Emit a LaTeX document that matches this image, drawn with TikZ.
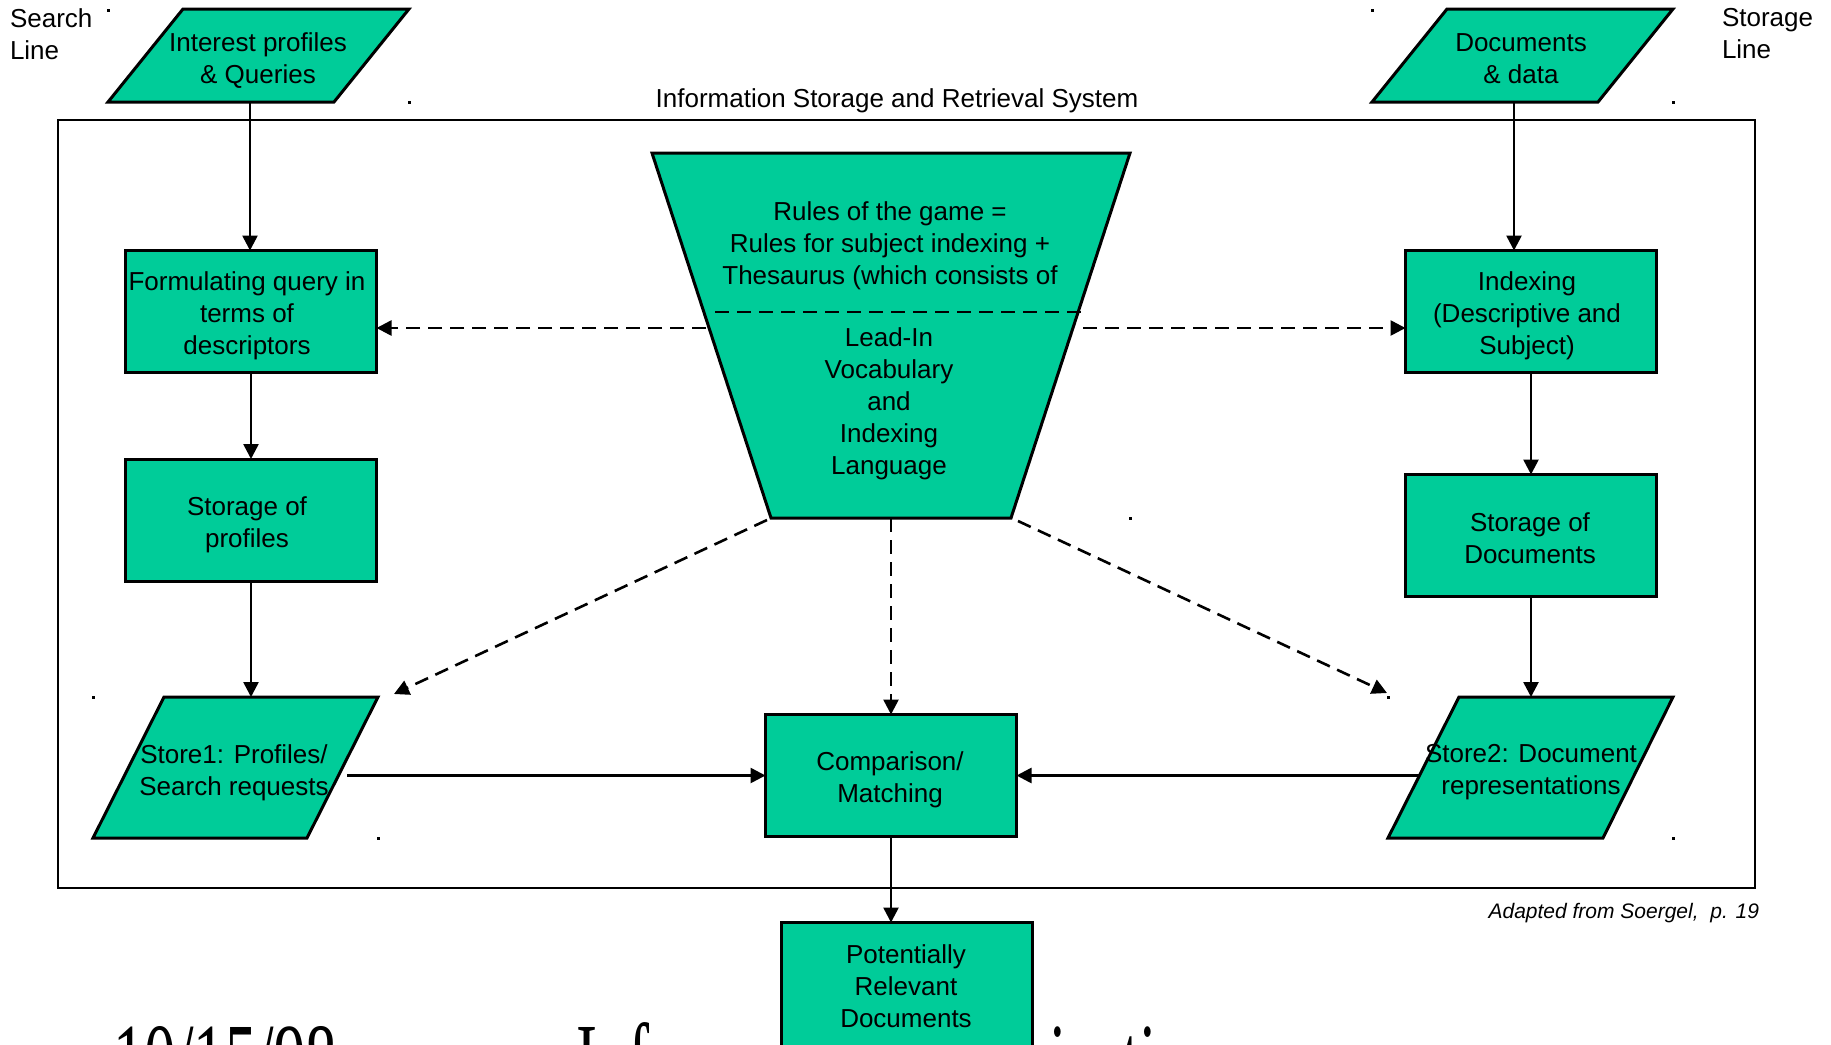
\documentclass[tikz,border=0pt]{standalone}
\usepackage{fontspec}
\setmainfont{Liberation Sans}
\newfontfamily\footserif{Liberation Serif}
\usetikzlibrary{arrows.meta}
\definecolor{boxgreen}{RGB}{0,204,153}

\tikzset{
  every node/.style={inner sep=0pt, outer sep=0pt},
  lbl/.style={font=\fontsize{26}{32}\selectfont, align=center},
  rectbox/.style={draw, line width=3pt, fill=boxgreen, minimum width=251pt, minimum height=122pt},
  pgram/.style={draw, line width=3pt, fill=boxgreen, line join=miter},
  flowline/.style={line width=2.6pt, -{Triangle[length=15pt,width=15pt]}},
  dashflow/.style={flowline, dash pattern=on 14pt off 8pt},
  speck/.style={fill=black, minimum size=3pt},
  footer/.style={anchor=base west, font=\footserif\fontsize{63}{63}\selectfont},
}

\begin{document}
\begin{tikzpicture}[x=1pt,y=-1pt]
\useasboundingbox (0,0) rectangle (1831,1044);

% footer line of the slide (mostly below the page edge)
\node[footer] (date) at (113,1093) {\scalebox{1}[1.6]{10/15/98}};
\node[footer] (course) at (576,1093) {\scalebox{1}[1.6]{Information Organization}};

% side captions and title
\node[lbl, align=left, anchor=west] (search) at (10,34) {Search\\Line};
\node[lbl, align=left, anchor=west] (storeline) at (1722,34) {Storage\\Line};
\node[lbl] (title) at (897,100.5) {Information Storage and Retrieval System};

% system frame
\draw[line width=2.4pt] (58,120) rectangle (1755,888);

% input parallelograms
\draw[pgram] (108,102) -- (183,9) -- (409,9) -- (334,102) -- cycle;
\node[lbl] (iq) at (258,60.5) {Interest profiles\\\& Queries};
\coordinate (iqb) at (250,102);

\draw[pgram] (1372,102) -- (1447,9) -- (1673,9) -- (1598,102) -- cycle;
\node[lbl] (dd) at (1521,59) {Documents\\\& data};
\coordinate (ddb) at (1514,102);

% search side
\node[rectbox] (fq) at (251,311.5) {};
\node[lbl] (fqt) at (247,316) {Formulating query in\\terms of\\descriptors};
\node[rectbox] (sp) at (251,520) {};
\node[lbl] (spt) at (247,525) {Storage of\\profiles};

% storage side
\node[rectbox] (ix) at (1531,311.5) {};
\node[lbl] (ixt) at (1527,316) {Indexing\\(Descriptive and\\Subject)};
\node[rectbox] (sd) at (1531,535.5) {};
\node[lbl] (sdt) at (1530,538) {Storage of\\Documents};

% stores
\draw[pgram] (93,838) -- (164,697) -- (378,697) -- (307,838) -- cycle;
\node[lbl] (st1) at (234,772.5) {Store1: Profiles/\\Search requests};
\coordinate (st1top) at (251,697);
\coordinate (st1out) at (347,775.5);

\draw[pgram] (1388,838) -- (1459,697) -- (1673,697) -- (1603,838) -- cycle;
\node[lbl] (st2) at (1531,772.5) {Store2: Document\\representations};
\coordinate (st2top) at (1531,697);
\coordinate (st2out) at (1419,775.5);

% rules of the game funnel
\draw[pgram] (652,153) -- (1130,153) -- (1011,518) -- (771,518) -- cycle;
\draw[line width=2.5pt, dash pattern=on 14pt off 8pt] (715,312) -- (1082,312);
\node[lbl] (rules) at (890,245.5) {Rules of the game =\\Rules for subject indexing +\\Thesaurus (which consists of};
\node[lbl] (vocab) at (889,403.5) {Lead-In\\Vocabulary\\and\\Indexing\\Language};
\coordinate (rl) at (706,328);
\coordinate (rr) at (1083,328);
\coordinate (rbl) at (767,520);
\coordinate (rbm) at (891,518);
\coordinate (rbr) at (1018,521);
\coordinate (tl) at (394,694);
\coordinate (tr) at (1387,693);

% matching
\node[rectbox] (cm) at (891,775.5) {};
\node[lbl] (cmt) at (890,780) {Comparison/\\Matching};

% solid flow
\draw[flowline] (iqb) -- (iqb |- fq.north);
\draw[flowline] (fq.south) -- (sp.north);
\draw[flowline] (sp.south) -- (st1top);
\draw[flowline] (ddb) -- (ddb |- ix.north);
\draw[flowline] (ix.south) -- (sd.north);
\draw[flowline] (sd.south) -- (st2top);
\draw[flowline] (st1out) -- (cm.west);
\draw[flowline] (st2out) -- (cm.east);

% dashed influence of the rules
\draw[dashflow] (rl) -- (fq.east |- rl);
\draw[dashflow] (rr) -- (ix.west |- rr);
\draw[dashflow] (rbl) -- (tl);
\draw[dashflow] (rbr) -- (tr);
\draw[dashflow] (rbm) -- (cm.north);

% result
\node[rectbox, anchor=north, minimum height=160pt] (prd) at (906.5,922.5) {};
\node[lbl] (prdt) at (906,986) {Potentially\\Relevant\\Documents};
\draw[flowline] (cm.south) -- (cm.south |- prd.north);

\node[anchor=base east, font=\itshape\fontsize{21}{25}\selectfont] (credit) at (1759,918) {Adapted from Soergel,\ \ p. 19};

% small corner marks
\foreach \p in {(108,10),(409,102),(1372,10),(1673,102),(1130,518),(93,697),(378,838),(1388,697),(1673,838)}
  \node[speck] at \p {};
\end{tikzpicture}
\end{document}
